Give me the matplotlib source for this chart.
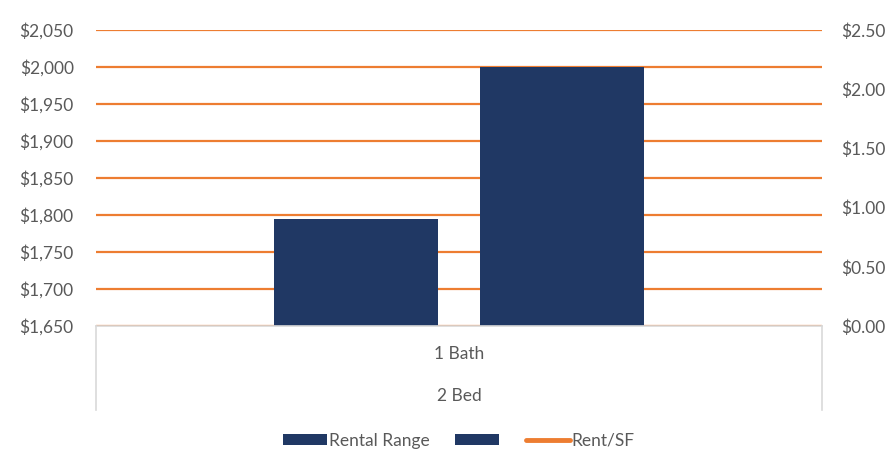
import numpy as np
import matplotlib.pyplot as plt
from matplotlib.lines import Line2D

plt.rcParams['font.family'] = ['Lato', 'DejaVu Sans']

# data
bath_label = '1 Bath'
bed_label = '2 Bed'
rent_low = [1795]
rent_high = [2000]
rent_sf = [1.90]   # single point, draws no visible line
left_ticks = [1650, 1700, 1750, 1800, 1850, 1900, 1950, 2000, 2050]
right_ticks = [0.0, 0.5, 1.0, 1.5, 2.0, 2.5]

navy = '#203864'
orange = '#ED7D31'
gray = '#595959'

fig = plt.figure(figsize=(8.94, 4.75), dpi=100)
ax = fig.add_axes([96/894, 149/475, 726/894, 296/475])

x = np.arange(len(rent_low))
w = 0.452
b1 = ax.bar(x - 0.285, np.array(rent_low) - 1650, bottom=1650, width=w, color=navy, zorder=3)
b2 = ax.bar(x + 0.285, np.array(rent_high) - 1650, bottom=1650, width=w, color=navy, zorder=3)

ax.set_xlim(-1, 1)
ax.set_ylim(1650, 2050)
ax.set_yticks(left_ticks)
ax.set_yticklabels(['${:,}'.format(t) for t in left_ticks])
ax.yaxis.grid(True, color=orange, lw=1.6, zorder=0)
ax.set_axisbelow(True)
ax.set_xticks([])
for s in ['left', 'right', 'top']:
    ax.spines[s].set_visible(False)
ax.spines['bottom'].set_color('#D9D9D9')
ax.spines['bottom'].set_linewidth(1.2)
ax.spines['bottom'].set_zorder(4)
ax.tick_params(axis='y', length=0, pad=16, labelsize=12.5, labelcolor=gray)

ax2 = ax.twinx()
ax2.plot(x, rent_sf, color=orange, lw=3)
ax2.set_ylim(0, 2.5)
ax2.set_yticks(right_ticks)
ax2.set_yticklabels(['${:.2f}'.format(t) for t in right_ticks])
for s in ax2.spines.values():
    s.set_visible(False)
ax2.tick_params(axis='y', length=0, pad=14, labelsize=12.5, labelcolor=gray)

# category axis box
for xe in [96/894, 822/894]:
    fig.add_artist(Line2D([xe, xe], [149/475, 65/475], color='#D9D9D9', lw=1.2))
fig.text(459/894, 1 - 354/475, bath_label, ha='center', va='center', fontsize=12.5, color=gray)
fig.text(459/894, 1 - 396/475, bed_label, ha='center', va='center', fontsize=12.5, color=gray)

handles = [b1, b2, Line2D([], [], color=orange, lw=3.5, solid_capstyle='round')]
fig.legend(handles, ['Rental Range', '', 'Rent/SF'], loc='center', bbox_to_anchor=(459/894, 1 - 441/475),
           ncol=3, frameon=False, fontsize=12.5, labelcolor=gray, handlelength=2.5, handletextpad=0.1,
           columnspacing=1.5, handleheight=0.6)

plt.savefig('out.png', dpi=100)
